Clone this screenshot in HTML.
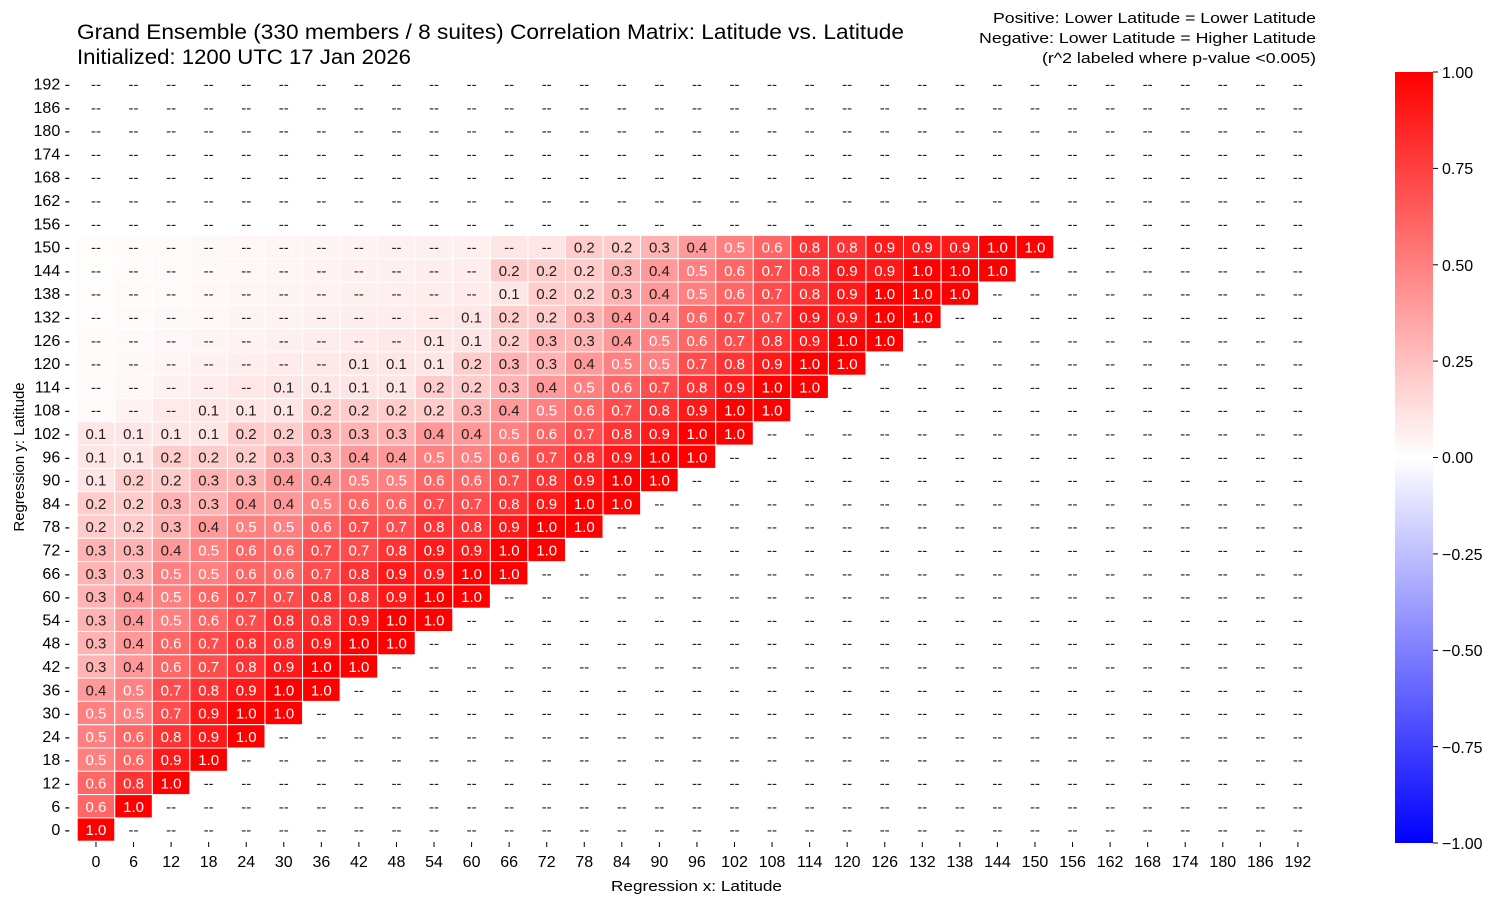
<!DOCTYPE html>
<html><head><meta charset="utf-8"><style>
body{margin:0;background:#fff;}
svg text{font-family:"Liberation Sans",sans-serif;}
</style></head><body>
<svg id="s" width="1503" height="907" xmlns="http://www.w3.org/2000/svg">
<defs><linearGradient id="cb" x1="0" y1="1" x2="0" y2="0">
<stop offset="0" stop-color="#0000ff"/><stop offset="0.5" stop-color="#ffffff"/><stop offset="1" stop-color="#ff0000"/></linearGradient></defs>
<text x="77" y="39" font-size="21" textLength="827" lengthAdjust="spacingAndGlyphs">Grand Ensemble (330 members / 8 suites) Correlation Matrix: Latitude vs. Latitude</text>
<text x="77" y="64" font-size="21" textLength="334" lengthAdjust="spacingAndGlyphs">Initialized: 1200 UTC 17 Jan 2026</text>
<text x="993" y="23" font-size="15" textLength="323" lengthAdjust="spacingAndGlyphs">Positive: Lower Latitude = Lower Latitude</text>
<text x="979" y="43" font-size="15" textLength="337" lengthAdjust="spacingAndGlyphs">Negative: Lower Latitude = Higher Latitude</text>
<text x="1042" y="63" font-size="15" textLength="274" lengthAdjust="spacingAndGlyphs">(r^2 labeled where p-value &lt;0.005)</text>
<g id="g"></g>
<rect x="1395" y="72" width="38" height="771" fill="url(#cb)"/>
<g font-size="16">
<line x1="1433" x2="1438" y1="72" y2="72" stroke="#000"/><text x="1442" y="78">1.00</text>
<line x1="1433" x2="1438" y1="168.4" y2="168.4" stroke="#000"/><text x="1442" y="174">0.75</text>
<line x1="1433" x2="1438" y1="264.8" y2="264.8" stroke="#000"/><text x="1442" y="271">0.50</text>
<line x1="1433" x2="1438" y1="361.1" y2="361.1" stroke="#000"/><text x="1442" y="367">0.25</text>
<line x1="1433" x2="1438" y1="457.5" y2="457.5" stroke="#000"/><text x="1442" y="463">0.00</text>
<line x1="1433" x2="1438" y1="553.9" y2="553.9" stroke="#000"/><text x="1442" y="560">−0.25</text>
<line x1="1433" x2="1438" y1="650.3" y2="650.3" stroke="#000"/><text x="1442" y="656">−0.50</text>
<line x1="1433" x2="1438" y1="746.6" y2="746.6" stroke="#000"/><text x="1442" y="753">−0.75</text>
<line x1="1433" x2="1438" y1="843" y2="843" stroke="#000"/><text x="1442" y="849">−1.00</text>
</g>
<text x="611" y="891" font-size="15" textLength="171" lengthAdjust="spacingAndGlyphs">Regression x: Latitude</text>
<text transform="translate(24,457) rotate(-90)" font-size="15" text-anchor="middle">Regression y: Latitude</text>
</svg>
<script>
var rows={
150:[11,[null,null,.2,.2,.3,.4,.5,.6,.8,.8,.9,.9,.9,1,1]],
144:[11,[.2,.2,.2,.3,.4,.5,.6,.7,.8,.9,.9,1,1,1]],
138:[11,[.1,.2,.2,.3,.4,.5,.6,.7,.8,.9,1,1,1]],
132:[10,[.1,.2,.2,.3,.4,.4,.6,.7,.7,.9,.9,1,1]],
126:[9,[.1,.1,.2,.3,.3,.4,.5,.6,.7,.8,.9,1,1]],
120:[7,[.1,.1,.1,.2,.3,.3,.4,.5,.5,.7,.8,.9,1,1]],
114:[5,[.1,.1,.1,.1,.2,.2,.3,.4,.5,.6,.7,.8,.9,1,1]],
108:[3,[.1,.1,.1,.2,.2,.2,.2,.3,.4,.5,.6,.7,.8,.9,1,1]],
102:[0,[.1,.1,.1,.1,.2,.2,.3,.3,.3,.4,.4,.5,.6,.7,.8,.9,1,1]],
96:[0,[.1,.1,.2,.2,.2,.3,.3,.4,.4,.5,.5,.6,.7,.8,.9,1,1]],
90:[0,[.1,.2,.2,.3,.3,.4,.4,.5,.5,.6,.6,.7,.8,.9,1,1]],
84:[0,[.2,.2,.3,.3,.4,.4,.5,.6,.6,.7,.7,.8,.9,1,1]],
78:[0,[.2,.2,.3,.4,.5,.5,.6,.7,.7,.8,.8,.9,1,1]],
72:[0,[.3,.3,.4,.5,.6,.6,.7,.7,.8,.9,.9,1,1]],
66:[0,[.3,.3,.5,.5,.6,.6,.7,.8,.9,.9,1,1]],
60:[0,[.3,.4,.5,.6,.7,.7,.8,.8,.9,1,1]],
54:[0,[.3,.4,.5,.6,.7,.8,.8,.9,1,1]],
48:[0,[.3,.4,.6,.7,.8,.8,.9,1,1]],
42:[0,[.3,.4,.6,.7,.8,.9,1,1]],
36:[0,[.4,.5,.7,.8,.9,1,1]],
30:[0,[.5,.5,.7,.9,1,1]],
24:[0,[.5,.6,.8,.9,1]],
18:[0,[.5,.6,.9,1]],
12:[0,[.6,.8,1]],
6:[0,[.6,1]],
0:[0,[1]]};
var L=77.2,T=72.3,W=37.56,H=23.3,h='';
for(var ri=0;ri<33;ri++){
 var yv=192-6*ri, y=T+ri*H, r=rows[yv];
 h+='<text x="70" y="'+(y+H/2+5.5)+'" font-size="16" text-anchor="end">'+yv+' -</text>';
 for(var c=0;c<33;c++){
  var x=L+c*W, v=null, fill=null;
  if(r){
   var st=r[0], arr=r[1], end=st+arr.length;
   if(c<st){ fill=0.01+0.06*(c/Math.max(st,1)); if(yv>=108&&yv<=150) fill*= (1+(150-yv)/60); }
   else if(c<end){ v=arr[c-st]; if(v===null) fill=0.1; else fill=v; }
  }
  if(fill!==null){
   var g=Math.round(255*(1-fill));
   h+='<rect x="'+x+'" y="'+y+'" width="'+W+'" height="'+H+'" fill="rgb(255,'+g+','+g+')" stroke="#fff" stroke-width="1"/>';
  }
  var t=v===null?'--':v.toFixed(1);
  var col=(v!==null&&v>=0.5)?'#fff':'#222';
  h+='<text x="'+(x+W/2)+'" y="'+(y+H/2+5.5)+'" font-size="15" text-anchor="middle" fill="'+col+'">'+t+'</text>';
 }
}
for(var c=0;c<33;c++){
 var x=L+c*W+W/2;
 h+='<line x1="'+x+'" x2="'+x+'" y1="842" y2="847" stroke="#000"/><text x="'+x+'" y="867" font-size="16" text-anchor="middle">'+(6*c)+'</text>';
}
document.getElementById('g').innerHTML=h;
</script>
</body></html>
